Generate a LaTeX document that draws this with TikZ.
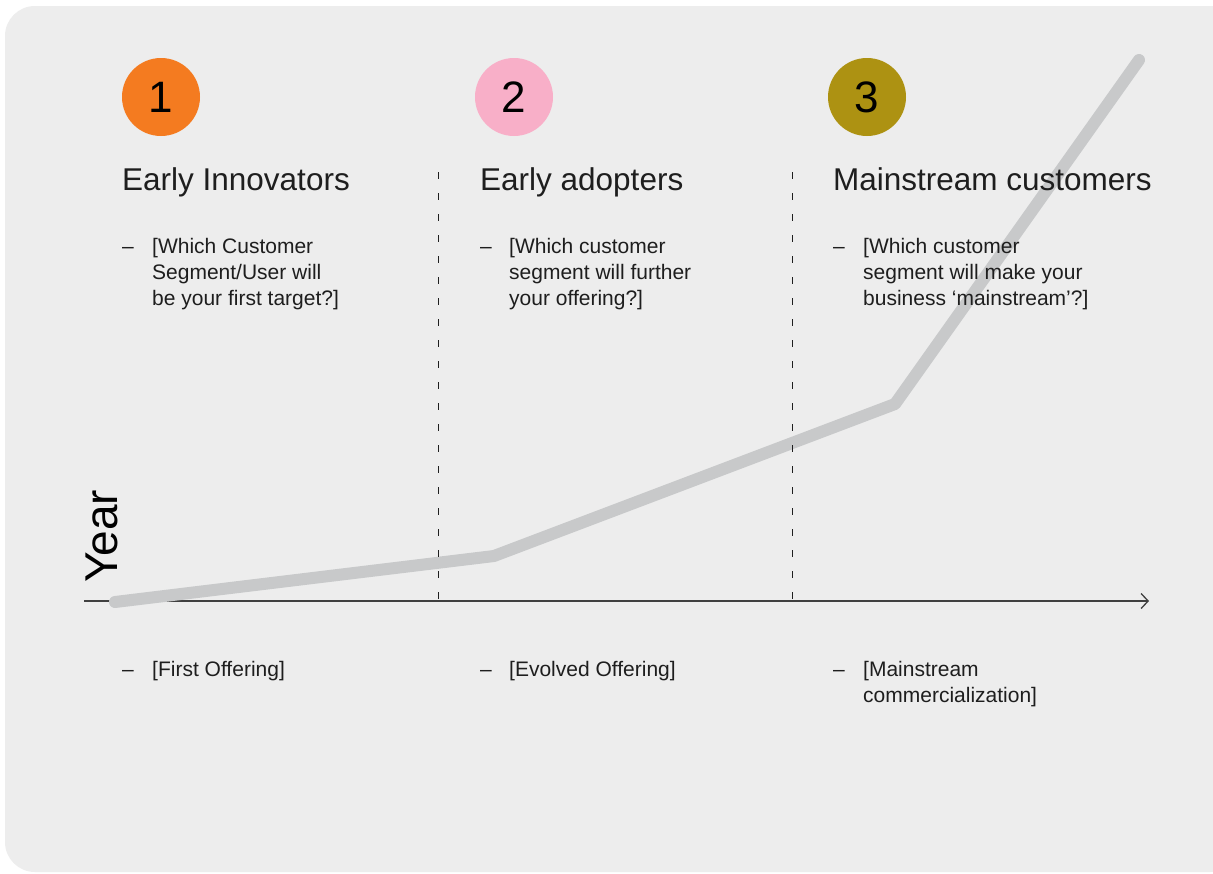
\documentclass[tikz,border=0pt]{standalone}
\usepackage{fontspec}
\setmainfont{Liberation Sans}
\usetikzlibrary{arrows.meta}
\definecolor{bg}{HTML}{EDEDED}
\definecolor{ink}{HTML}{1E1E1E}
\definecolor{curve}{HTML}{C8C9CA}
\definecolor{c1}{HTML}{F47B20}
\definecolor{c2}{HTML}{F8AFC8}
\definecolor{c3}{HTML}{AD9212}
\tikzset{
  numcirc/.style={circle, minimum size=78pt, inner sep=0pt, text=black, font=\fontsize{44}{44}\selectfont},
  title/.style={anchor=base west, inner sep=0pt, text=ink, font=\fontsize{31.5}{36}\selectfont},
  body/.style={anchor=base west, inner sep=0pt, text=ink, align=left, font=\fontsize{21}{26}\selectfont},
  bullet/.style={anchor=base west, inner sep=0pt, text=ink, font=\fontsize{21}{26}\selectfont},
  divider/.style={draw=ink, line width=1pt, dash pattern=on 7pt off 14pt},
}
\begin{document}
\begin{tikzpicture}[x=1pt,y=-1pt]
\useasboundingbox (0,0) rectangle (1213,873);
\fill[white] (0,0) rectangle (1213,873);
\fill[bg, rounded corners=30pt] (5,6) rectangle (1240,872);

% axis
\coordinate (ax0) at (84,601);
\coordinate (ax1) at (1149,601);
\draw[draw=ink!85, line width=1.3pt, -{Straight Barb[length=7pt,width=15pt,line width=1.3pt]}] (ax0) -- (ax1);

% growth curve (behind the texts)
\coordinate (g0) at (115,602);
\coordinate (g1) at (494,556);
\coordinate (g2) at (895,404);
\coordinate (g3) at (1139,60);
\draw[curve, line width=12pt, line cap=round, line join=round] (g0) -- (g1) -- (g2) -- (g3);

% dividers
\coordinate (v1t) at (438,172);
\coordinate (v1b) at (438,601);
\coordinate (v2t) at (792,172);
\coordinate (v2b) at (792,601);
\draw[divider] (v1t) -- (v1b);
\draw[divider] (v2t) -- (v2b);

% circles
\node[numcirc, fill=c1] (n1) at (161,97) {1};
\node[numcirc, fill=c2] (n2) at (514,97) {2};
\node[numcirc, fill=c3] (n3) at (867,97) {3};

% titles
\node[title] (t1) at (122,190) {Early Innovators};
\node[title] (t2) at (480,190) {Early adopters};
\node[title] (t3) at (833,190) {Mainstream customers};

% upper bullets (multi-line nodes are placed by their last baseline)
\node[bullet] (d1) at (122,253) {–};
\node[body] (b1) at (152,305) {[Which Customer\\Segment/User will\\be your first target?]};
\node[bullet] (d2) at (480,253) {–};
\node[body] (b2) at (509,305) {[Which customer\\segment will further\\your offering?]};
\node[bullet] (d3) at (833,253) {–};
\node[body] (b3) at (863,305) {[Which customer\\segment will make your\\business ‘mainstream’?]};

% lower bullets
\node[bullet] (e1) at (122,676) {–};
\node[body] (f1) at (152,676) {[First Offering]};
\node[bullet] (e2) at (480,676) {–};
\node[body] (f2) at (509,676) {[Evolved Offering]};
\node[bullet] (e3) at (833,676) {–};
\node[body] (f3) at (863,702) {[Mainstream\\commercialization]};

\node[rotate=90, anchor=base west, inner sep=0pt, text=black, font=\fontsize{46}{46}\selectfont] (year) at (117,583) {Year};
\end{tikzpicture}
\end{document}
